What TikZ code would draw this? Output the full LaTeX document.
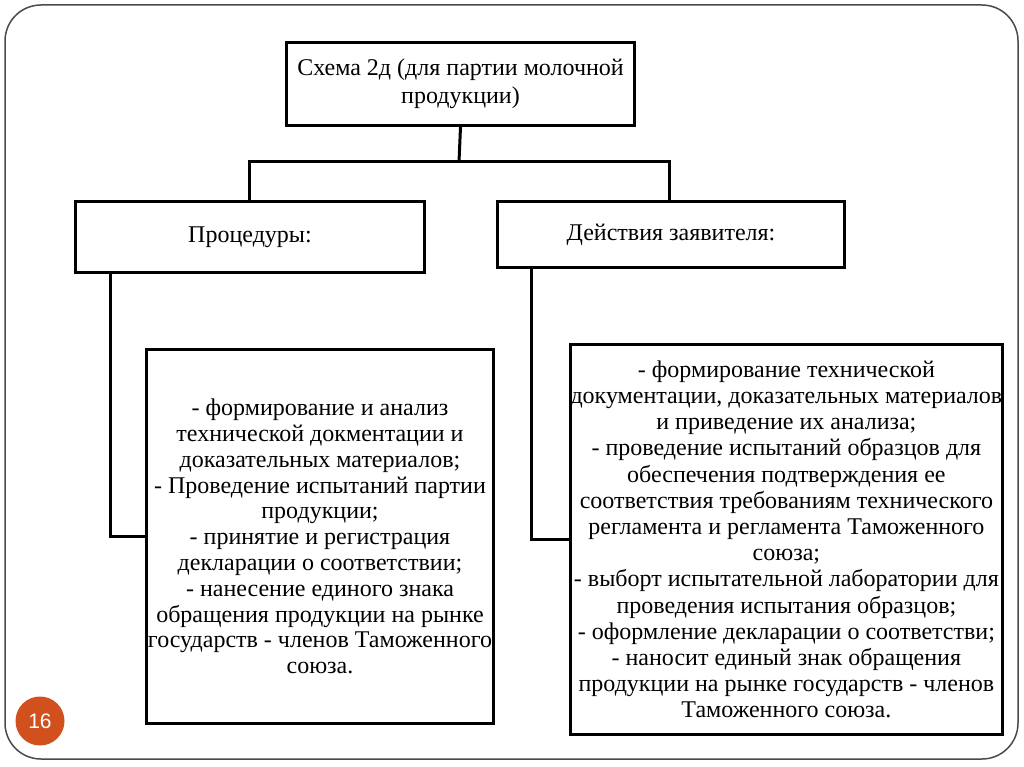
\documentclass[tikz,border=0pt]{standalone}
\usepackage{fontspec}
\setmainfont{Liberation Serif}
\newfontfamily\numfont{Liberation Sans}
\definecolor{slideorange}{HTML}{D2501E}
\definecolor{framegray}{HTML}{4A4A4A}
\begin{document}
\begin{tikzpicture}[x=1pt,y=-1pt,
  box/.style={draw=black, line width=3pt, fill=white, anchor=north west, align=center, inner sep=0pt},
  conn/.style={draw=black, line width=3pt},
  txt/.style={font=\fontsize{24}{25.8}\selectfont},
  txtr/.style={font=\fontsize{24}{26.2}\selectfont},
  txtt/.style={font=\fontsize{24}{28}\selectfont}
]
\useasboundingbox (0,0) rectangle (1024,767);
\fill[white] (0,0) rectangle (1024,767);
\draw[framegray, line width=1.5pt, rounded corners=36pt] (5,5) rectangle (1018,759);

\node[box, txtt, minimum width=348pt, minimum height=83pt] (top) at (285,41)
  {\raisebox{-3pt}{\parbox{340pt}{\centering Схема 2д (для партии молочной\\продукции)}}};
\node[box, txt, minimum width=349pt, minimum height=71pt] (proc) at (74,200) {Процедуры:};
\node[box, txt, minimum width=347pt, minimum height=66pt] (act) at (496,200) {Действия заявителя:};
\node[box, txt, minimum width=347pt, minimum height=374pt] (lbig) at (145,348)
  {- формирование и анализ\\технической докментации и\\доказательных материалов;\\- Проведение испытаний партии\\продукции;\\- принятие и регистрация\\декларации о соответствии;\\- нанесение единого знака\\обращения продукции на рынке\\государств - членов Таможенного\\союза.};
\node[box, txtr, minimum width=431pt, minimum height=390pt] (rbig) at (569,343)
  {- формирование технической\\документации, доказательных материалов\\и приведение их анализа;\\- проведение испытаний образцов для\\обеспечения подтверждения ее\\соответствия требованиям технического\\регламента и регламента Таможенного\\союза;\\- выборт испытательной лаборатории для\\проведения испытания образцов;\\- оформление декларации о соответстви;\\- наносит единый знак обращения\\продукции на рынке государств - членов\\Таможенного союза.};

\coordinate (j) at (459,162);
\coordinate (jl) at (249,162);
\coordinate (jr) at (669,162);
\draw[conn] (top.south) -- (j);
\draw[conn] (jl |- proc.north) -- (jl) -- (jr) -- (jr |- act.north);
\draw[conn] ([xshift=36pt]proc.south west) |- (lbig.west);
\draw[conn] ([xshift=35pt]act.south west) |- (rbig.west);

\node[circle, fill=slideorange, minimum size=49pt, inner sep=0pt, text=white, font=\numfont\fontsize{21}{25}\selectfont] (num) at (40,721) {16};
\end{tikzpicture}
\end{document}
